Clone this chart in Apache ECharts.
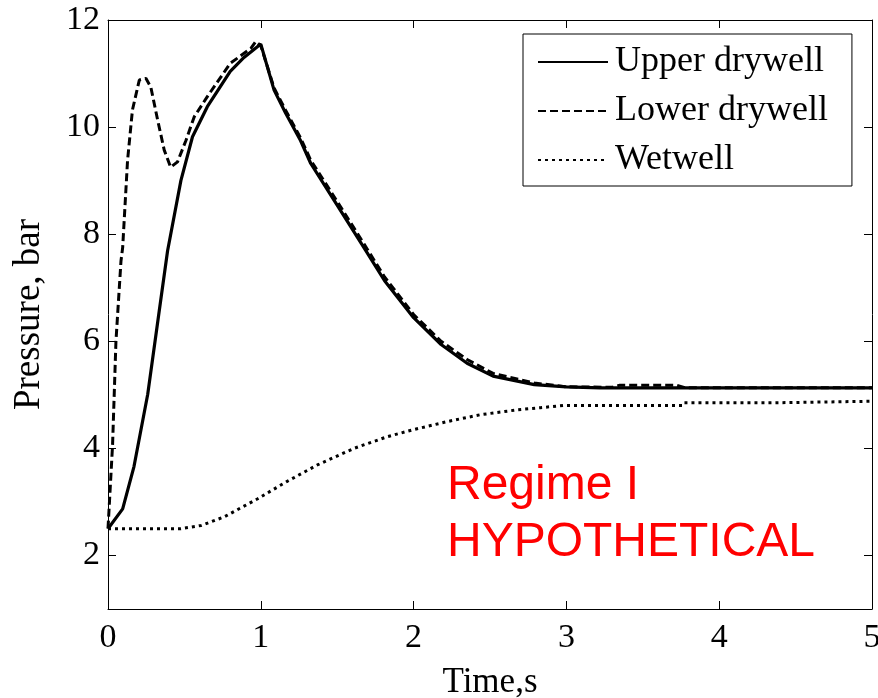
<!DOCTYPE html>
<html>
<head>
<meta charset="utf-8">
<script src="https://cdn.jsdelivr.net/npm/echarts@6/dist/echarts.min.js"></script>
<style>
  html, body { margin: 0; padding: 0; background: #fff; }
  #chart { width: 878px; height: 698px; }
</style>
</head>
<body>
<div id="chart"></div>
<script>
// time (s) and pressure (bar)
const upperT = [0, 0.096, 0.17, 0.26, 0.335, 0.39, 0.477, 0.553, 0.65, 0.8, 0.89, 1.0,
  1.087, 1.163, 1.26, 1.327, 1.48, 1.675, 1.81, 2.0, 2.18, 2.35, 2.52, 2.79, 3.0, 3.22, 5.0];
const upperP = [2.5, 2.87, 3.66, 5.01, 6.56, 7.69, 9.0, 9.82, 10.38, 11.04, 11.3, 11.55,
  10.69, 10.26, 9.75, 9.32, 8.63, 7.75, 7.13, 6.44, 5.94, 5.59, 5.35, 5.19, 5.15, 5.13, 5.13];

const lowerT = [0, 0.03, 0.052, 0.085, 0.096, 0.128, 0.16, 0.205, 0.248, 0.28, 0.325, 0.368,
  0.41, 0.455, 0.51, 0.564, 0.65, 0.8, 0.935, 0.967, 1.0, 1.087, 1.163, 1.26, 1.327, 1.48,
  1.675, 1.81, 2.0, 2.18, 2.35, 2.52, 2.79, 3.0, 3.3, 3.35, 3.72, 3.78, 5.0];
const lowerP = [2.5, 4.07, 6.0, 7.5, 7.75, 9.38, 10.32, 10.88, 10.91, 10.75, 10.13, 9.57,
  9.25, 9.35, 9.75, 10.19, 10.57, 11.19, 11.47, 11.6, 11.52, 10.73, 10.31, 9.8, 9.38, 8.7,
  7.82, 7.2, 6.5, 6.0, 5.66, 5.4, 5.22, 5.15, 5.14, 5.18, 5.18, 5.13, 5.13];

const wetT = [0, 0.477, 0.61, 0.76, 0.98, 1.17, 1.37, 1.61, 1.83, 2.0, 2.22, 2.44, 2.68,
  2.83, 2.98, 3.76, 3.77, 4.33, 4.34, 5.0];
const wetP = [2.5, 2.5, 2.56, 2.72, 3.06, 3.38, 3.69, 4.0, 4.22, 4.35, 4.5, 4.63, 4.72,
  4.76, 4.8, 4.8, 4.85, 4.85, 4.88, 4.88];

const xTicks = [0, 1, 2, 3, 4, 5];
const yTicks = [2, 4, 6, 8, 10, 12];
const seriesNames = ['Upper drywell', 'Lower drywell', 'Wetwell'];

const zip = (a, b) => a.map((t, i) => [t, b[i]]);

const serif = 'Liberation Serif, Times New Roman, serif';
const black = '#000';

const myChart = echarts.init(document.getElementById('chart'));

// mirrored box axes (top / right), ticks only
const boxAxis = (extra) => Object.assign({
  type: 'value',
  axisLabel: { show: false },
  axisLine: { show: true, onZero: false, lineStyle: { color: black, width: 1 } },
  splitLine: { show: false }
}, extra);

const option = {
  animation: false,
  backgroundColor: '#fff',
  grid: { left: 108, right: 6, top: 20, bottom: 89, outerBoundsMode: 'none' },
  legend: {
    data: seriesNames,
    orient: 'vertical',
    left: 523,
    top: 34,
    padding: [10, 24, 8, 14],
    itemWidth: 70,
    itemHeight: 14,
    itemGap: 13,
    backgroundColor: '#fff',
    borderColor: black,
    borderWidth: 1,
    itemStyle: { color: 'transparent', borderWidth: 0, opacity: 0 },
    textStyle: { fontFamily: serif, fontSize: 36, lineHeight: 36, color: black, padding: [0, 0, 0, 2] }
  },
  xAxis: [
    {
      type: 'value',
      min: xTicks[0],
      max: xTicks[xTicks.length - 1],
      interval: 1,
      name: 'Time,s',
      nameLocation: 'middle',
      nameGap: 56,
      nameTextStyle: { fontFamily: serif, fontSize: 35, color: black },
      axisLabel: { fontFamily: serif, fontSize: 34, color: black, margin: 12 },
      axisTick: { inside: true, length: 8, lineStyle: { color: black } },
      axisLine: { onZero: false, lineStyle: { color: black, width: 1 } },
      splitLine: { show: false }
    },
    boxAxis({
      position: 'top', min: 0, max: 5, interval: 1,
      axisTick: { inside: true, length: 8, lineStyle: { color: black } }
    })
  ],
  yAxis: [
    {
      type: 'value',
      min: 1,
      max: yTicks[yTicks.length - 1],
      name: 'Pressure, bar',
      nameLocation: 'middle',
      nameGap: 60,
      nameTextStyle: { fontFamily: serif, fontSize: 37, color: black },
      axisLabel: { fontFamily: serif, fontSize: 34, color: black, margin: 8, customValues: yTicks },
      axisTick: { inside: true, length: 8, lineStyle: { color: black }, customValues: yTicks },
      axisLine: { show: true, onZero: false, lineStyle: { color: black, width: 1 } },
      splitLine: { show: false }
    },
    boxAxis({
      position: 'right', min: 1, max: 12,
      axisTick: { inside: true, length: 8, lineStyle: { color: black }, customValues: yTicks }
    })
  ],
  graphic: [
    {
      type: 'text', left: 447, top: 462, z: 100,
      style: { text: 'Regime I', fill: '#ff0000', font: '48px Liberation Sans, Arial, sans-serif' }
    },
    {
      type: 'text', left: 447, top: 519, z: 100,
      style: { text: 'HYPOTHETICAL', fill: '#ff0000', font: '48px Liberation Sans, Arial, sans-serif' }
    }
  ],
  series: [
    {
      name: seriesNames[0], type: 'line', symbol: 'none', data: zip(upperT, upperP),
      lineStyle: { color: black, width: 3.2, type: 'solid' }, itemStyle: { color: black }
    },
    {
      name: seriesNames[1], type: 'line', symbol: 'none', data: zip(lowerT, lowerP),
      lineStyle: { color: black, width: 3, type: [8, 4] }, itemStyle: { color: black }
    },
    {
      name: seriesNames[2], type: 'line', symbol: 'none', data: zip(wetT, wetP),
      lineStyle: { color: black, width: 3, type: [3, 4] }, itemStyle: { color: black }
    }
  ]
};

myChart.setOption(option);
</script>
</body>
</html>
